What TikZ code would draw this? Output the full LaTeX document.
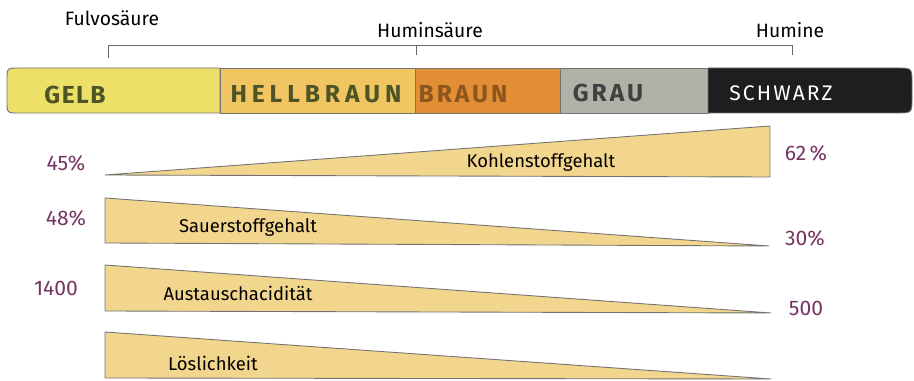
\documentclass[tikz,border=0pt]{standalone}
\usepackage{fontspec}
\setmainfont{Fira Sans}
\usetikzlibrary{positioning}
\definecolor{hsyellow}{RGB}{236,224,104}
\definecolor{hslight}{RGB}{241,198,98}
\definecolor{hsbrown}{RGB}{226,142,52}
\definecolor{hsgray}{RGB}{178,177,168}
\definecolor{hsblack}{RGB}{30,30,30}
\definecolor{hsochre}{RGB}{243,214,142}
\definecolor{hsolive}{RGB}{78,84,38}
\definecolor{hsumber}{RGB}{140,86,30}
\definecolor{hsplum}{RGB}{118,52,98}

\begin{document}
\begin{tikzpicture}[x=0.02cm,y=-0.02cm,
    seg/.style={draw=black!55,line width=.5pt,line join=round},
    band/.style={font=\fontsize{14}{16}\selectfont\bfseries\addfontfeature{LetterSpace=12}},
    tag/.style={font=\fontsize{11}{13}\selectfont},
    prop/.style={font=\fontsize{10.5}{12}\selectfont},
    val/.style={text=hsplum,font=\fontsize{12}{14}\selectfont},
    wedge/.style={fill=hsochre,draw=black!55,line width=.5pt,line join=round}]
    \useasboundingbox (0,0) rectangle (914,381);
    \node[tag] (fulvo) at (112,18) {Fulvosäure};
    \node[tag] (humins) at (430,30) {Huminsäure};
    \node[tag] (humine) at (790,30) {Humine};
    \coordinate (b1) at (108,58); \coordinate (b2) at (416,55); \coordinate (b3) at (792,55);
    \draw[black!60] (b1) -- (b1 |- 0,45) -- (b3 |- 0,45) -- (b3);
    \draw[black!60] (b2) -- (b2 |- 0,45);
    \draw[seg,fill=hsyellow] (220,68) -- (19,68) .. controls (7,68) .. (7,80) -- (7,101) .. controls (7,113) .. (19,113) -- (220,113) -- cycle;
    \draw[seg,fill=hslight] (220,68) rectangle (415,113);
    \draw[seg,fill=hsbrown] (415,68) rectangle (560,113);
    \draw[seg,fill=hsgray] (560,68) rectangle (708,113);
    \draw[seg,fill=hsblack] (708,68) -- (897,68) .. controls (912,68) .. (912,83) -- (912,98) .. controls (912,113) .. (897,113) -- (708,113) -- cycle;
    \node[band,text=hsolive,font=\fontsize{14}{16}\selectfont\bfseries\addfontfeature{LetterSpace=6}] (lgelb) at (75,95) {GELB};
    \node[band,text=hsolive,font=\fontsize{14}{16}\selectfont\bfseries\addfontfeature{LetterSpace=20}] (lhell) at (316,94) {HELLBRAUN};
    \node[band,text=hsumber] (lbraun) at (463,94) {BRAUN};
    \node[band,text=black!75] (lgrau) at (608,93) {GRAU};
    \node[band,text=white,font=\fontsize{12}{14}\selectfont\addfontfeature{LetterSpace=10}] (lschwarz) at (781,93) {SCHWARZ};
    \draw[wedge] (105,175) -- (770,126) -- (770,177) -- cycle;
    \draw[wedge] (105,198) -- (769,246) -- (105,243) -- cycle;
    \draw[wedge] (105,265) -- (771,313) -- (105,311) -- cycle;
    \draw[wedge] (105,332) -- (771,379) -- (105,378) -- cycle;
    \node[prop] (kohlen) at (541,163) {Kohlenstoffgehalt};
    \node[prop] (sauer) at (248,228) {Sauerstoffgehalt};
    \node[prop] (austausch) at (238,293) {Austauschacidität};
    \node[prop] (loes) at (213,363) {Löslichkeit};
    \node[val] (c45) at (66,163) {45\%};
    \node[val] (c62) at (806,153) {62\,\%};
    \node[val] (o48) at (66,218) {48\%};
    \node[val] (o30) at (805,238) {30\%};
    \node[val] (a1400) at (56,288) {1400};
    \node[val] (a500) at (806,308) {500};
\end{tikzpicture}
\end{document}
